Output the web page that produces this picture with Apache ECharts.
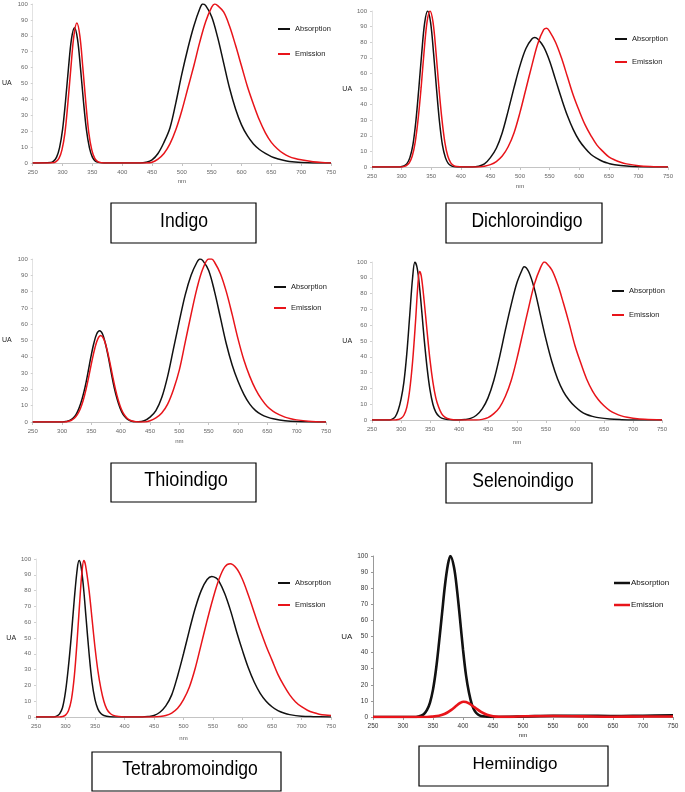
<!DOCTYPE html>
<html>
  <head>
    <meta charset="utf-8" />
    <title>Indigo derivatives - absorption / emission</title>
    <script src="https://cdn.jsdelivr.net/npm/echarts/dist/echarts.min.js"></script>
    <style>body { margin: 0; background: #fff; }</style>
  </head>
  <body>
    <div id="main" style="width: 685px; height: 792px;"></div>
    <script type="text/javascript">
      var myChart = echarts.init(document.getElementById('main'));

      // axis ranges (nm on x, UA on y)
      var nmMin = 250, nmMax = 750, nmStep = 50;
      var uaMin = 0, uaMax = 100, uaStep = 10;
      var seriesNames = ['Absorption', 'Emission'];
      var compounds = ['Indigo', 'Dichloroindigo', 'Thioindigo', 'Selenoindigo', 'Tetrabromoindigo', 'Hemiindigo'];

      // [nm, UA]
      var indigoAbs = [[250,0],[280,0.3],[285,1.2],[290,3.7],[295,9.7],[300,21],[305,39],[310,60],[315,78],[320,85],[325,78],[330,60],[335,39],[340,21],[345,9.7],[350,3.7],[355,1.2],[360,0.4],[370,0],[430,0],[440,0.5],[450,2],[460,6],[470,13],[480,22],[490,38],[500,56],[510,72],[520,86],[530,97],[535,100],[540,99],[550,92],[560,79],[570,63],[580,47],[590,34],[600,24],[610,17],[620,12],[630,8.5],[640,6],[650,4],[660,2.7],[670,1.7],[680,1],[700,0.3],[720,0],[750,0]];
      var indigoEm = [[250,0],[284,0.2],[289,0.9],[294,2.9],[299,8.3],[304,19],[309,38],[314,60],[319,80],[324,88],[329,80],[334,60],[339,38],[344,19],[349,8.3],[354,2.9],[359,0.9],[365,0.2],[375,0],[440,0],[450,0.5],[460,2.5],[470,6],[480,12],[490,21],[500,33],[510,47],[520,61],[530,76],[540,89],[550,98],[555,100],[560,99],[570,95],[580,86],[590,74],[600,61],[610,48],[620,37],[630,27],[640,19],[650,13],[660,9],[670,6],[680,4],[690,2.8],[700,2],[720,0.8],[740,0.2],[750,0]];

      var dichloroAbs = [[250,0],[295,0],[299,0.2],[304,0.7],[309,2.2],[314,6],[319,14],[324,29],[329,50],[334,73],[339,92.5],[344,100],[349,92.5],[354,73],[359,50],[364,29],[369,14],[374,6],[379,2.2],[384,0.7],[389,0.2],[400,0],[420,0],[430,0.5],[440,2],[450,6],[460,12],[470,22],[480,36],[490,51],[500,65],[510,76],[520,82],[525,83],[530,82],[540,77],[550,68],[560,56],[570,44],[580,33],[590,24],[600,17],[610,12],[620,8],[630,5.5],[640,3.5],[650,2.3],[660,1.5],[680,0.6],[700,0.2],[750,0]];
      var dichloroEm = [[250,0],[300,0],[303,0.25],[308,0.9],[313,2.7],[318,7],[323,16],[328,31],[333,51],[338,74],[343,93],[348,100],[353,93],[358,74],[363,51],[368,31],[373,16],[378,7],[383,2.7],[388,0.9],[393,0.25],[405,0],[430,0],[440,0.5],[450,1.5],[460,3.5],[470,7],[480,13],[490,22],[500,35],[510,50],[520,65],[530,79],[540,88],[545,89],[550,87],[560,80],[570,70],[580,58],[590,46],[600,36],[610,27],[620,20],[630,14],[640,10],[650,6.5],[660,4.5],[670,3],[680,2],[700,0.8],[720,0.3],[750,0]];

      var thioAbs = [[250,0],[300,0],[304,0.2],[309,0.5],[314,1.2],[319,2.5],[324,4.7],[329,8.5],[334,14],[339,21],[344,30],[349,39.6],[354,48],[359,54],[364,56],[369,54],[374,48],[379,39.6],[384,30],[389,21],[394,14],[399,8.5],[404,4.7],[409,2.5],[414,1.2],[419,0.5],[424,0.2],[430,0.2],[440,0.8],[450,3],[460,7],[470,15],[480,28],[490,45],[500,62],[510,78],[520,90],[530,98],[535,100],[540,99],[550,93],[560,80],[570,64],[580,48],[590,35],[600,25],[610,17],[620,11],[630,7],[640,4.5],[650,3],[660,2],[680,0.8],[700,0.3],[750,0]];
      var thioEm = [[250,0],[305,0],[311,0.5],[316,1.1],[321,2.3],[326,4.5],[331,8],[336,13.2],[341,20.2],[346,28.6],[351,37.5],[356,45.4],[361,51],[366,53],[371,51],[376,45.4],[381,37.5],[386,28.6],[391,20.2],[396,13.2],[401,8],[406,4.5],[411,2.3],[416,1.1],[421,0.5],[426,0.2],[440,0],[450,0.8],[460,2.5],[470,5.5],[480,11],[490,20],[500,32],[510,49],[520,66],[530,82],[540,94],[550,100],[555,100],[560,98],[570,91],[580,80],[590,66],[600,51],[610,38],[620,28],[630,20],[640,14],[650,9.5],[660,6.5],[670,4.5],[680,3],[690,2],[700,1.3],[720,0.5],[750,0]];

      var selenoAbs = [[250,0],[280,0],[285,0.5],[290,2],[295,6],[300,13],[305,24],[310,42],[315,66],[320,90],[324,100],[328,96],[332,84],[336,68],[340,51],[345,33],[350,19],[355,10],[360,5],[365,2.5],[370,1.2],[380,0.3],[390,0],[400,0],[410,0.3],[420,1],[430,3],[440,7],[450,14],[460,25],[470,40],[480,57],[490,73],[500,87],[510,96],[512,97],[520,94],[530,83],[540,67],[550,51],[560,37],[570,26],[580,18],[590,12.5],[600,8.5],[610,5.5],[620,3.5],[630,2.3],[640,1.5],[660,0.6],[680,0.2],[700,0],[750,0]];
      var selenoEm = [[250,0],[290,0],[295,0.3],[300,1],[305,3],[310,8],[315,19],[320,37],[325,62],[329,85],[332,94],[335,91],[340,75],[345,56],[350,38],[355,24],[360,14],[365,8],[370,4],[375,2],[380,1],[390,0.2],[400,0],[430,0],[440,0.4],[450,1.5],[460,4],[470,8],[480,15],[490,25],[500,39],[510,55],[520,71],[530,86],[540,96],[547,100],[550,99.5],[560,95],[570,86],[580,74],[590,61],[600,47],[610,36],[620,26],[630,18.5],[640,13],[650,9],[660,6],[670,4],[680,2.6],[690,1.7],[700,1.1],[720,0.4],[750,0]];

      var tetraAbs = [[250,0],[280,0],[285,0.5],[290,2],[295,6],[300,16],[305,32],[310,52],[315,75],[320,94],[323,99],[326,96],[330,84],[335,62],[340,40],[345,22],[350,11],[355,5],[360,2.2],[365,1],[375,0.2],[390,0],[430,0],[440,0.3],[450,1],[460,3],[470,7],[480,14],[490,26],[500,40],[510,55],[520,69],[530,80],[540,87],[548,89],[555,88],[560,86],[570,78],[580,67],[590,54],[600,42],[610,31],[620,22],[630,15],[640,10],[650,6.5],[660,4],[670,2.5],[680,1.5],[700,0.5],[720,0.2],[750,0]];
      var tetraEm = [[250,0],[290,0],[295,0.3],[300,1.2],[305,4],[310,11],[315,26],[320,50],[325,78],[328,92],[331,99],[334,96],[340,80],[345,62],[350,44],[355,29],[360,18],[365,10],[370,5],[375,2.5],[380,1.2],[390,0.3],[400,0],[450,0],[460,0.3],[470,1],[480,2.5],[490,5.5],[500,11],[510,19],[520,31],[530,46],[540,61],[550,75],[560,87],[570,95],[579,97],[590,94],[600,87],[610,77],[620,66],[630,55],[640,45],[650,36],[660,27],[670,20],[680,14],[690,9.5],[700,6.5],[710,4.3],[720,2.8],[730,1.8],[740,1.2],[750,0.9]];

      var hemiAbs = [[250,0],[320,0],[325,0.3],[330,0.8],[335,1.9],[340,4.4],[345,9],[350,17],[355,29.5],[360,46],[365,64],[370,82],[375,95],[379,100],[385,93],[390,79],[395,61],[400,42],[405,26],[410,15],[415,7.5],[420,3.5],[425,1.5],[430,0.6],[440,0.2],[450,0],[500,0.3],[550,0.8],[600,0.8],[650,0.6],[700,0.8],[750,1]];
      var hemiEm = [[250,0],[340,0],[350,0.3],[360,0.8],[370,2],[380,4.3],[390,7.3],[395,8.7],[401,9.5],[405,9.3],[410,8.4],[420,5.8],[430,3.2],[440,1.4],[450,0.5],[460,0.2],[480,0.2],[500,0.5],[550,0.6],[600,0.4],[650,0.2],[700,0.3],[750,0.3]];

      var spectra = [
        [indigoAbs, indigoEm], [dichloroAbs, dichloroEm], [thioAbs, thioEm],
        [selenoAbs, selenoEm], [tetraAbs, tetraEm], [hemiAbs, hemiEm]
      ];

      // page layout of each panel (pixels)
      var layout = [
        { grid: [28, 4, 303, 159], nmGap: 15, uaGap: 21, legend: [278, 24, 15], box: [111, 203, 145, 40], label: [184, 222, 19.5, 0.9] },
        { grid: [372, 11, 296, 156], nmGap: 16, uaGap: 19, legend: [615, 34, 13], box: [446, 203, 156, 40], label: [527, 222, 19.5, 0.9] },
        { grid: [31, 259, 295, 163], nmGap: 16, uaGap: 21, legend: [274, 282, 11], box: [111, 463, 145, 39], label: [186, 481, 19.5, 0.93] },
        { grid: [372, 262, 290, 158], nmGap: 19, uaGap: 17, legend: [612, 286, 14], box: [446, 463, 146, 40], label: [523, 482, 19.5, 0.9] },
        { grid: [36, 559, 295, 158], nmGap: 18, uaGap: 19, legend: [278, 578, 12], box: [92, 752, 189, 39], label: [190, 770, 19.5, 0.9] },
        { grid: [373, 556, 300, 161], nmGap: 15, uaGap: 17, legend: [614, 578, 12], box: [419, 746, 189, 40], label: [515, 764, 17, 1] }
      ];

      var font = '"Liberation Sans", Arial, sans-serif';
      var grids = [], xAxes = [], yAxes = [], legends = [], series = [], graphics = [];

      layout.forEach(function (p, i) {
        var heavy = i === 5;
        grids.push({ left: p.grid[0], top: p.grid[1], width: p.grid[2], height: p.grid[3] });
        xAxes.push({
          gridIndex: i, type: 'value', min: nmMin, max: nmMax, interval: nmStep,
          name: 'nm', nameLocation: 'middle', nameGap: p.nmGap,
          nameTextStyle: { fontSize: 6, color: heavy ? '#222' : '#555', fontFamily: font },
          axisLine: { lineStyle: { color: heavy ? '#999' : '#c4c4c4', width: 1 } },
          axisTick: { length: 3, lineStyle: { color: heavy ? '#999' : '#c4c4c4' } },
          axisLabel: { fontSize: heavy ? 6.5 : 6, color: heavy ? '#333' : '#666', margin: 6, fontFamily: font },
          splitLine: { show: false }
        });
        yAxes.push({
          gridIndex: i, type: 'value', min: uaMin, max: uaMax, interval: uaStep,
          name: 'UA', nameLocation: 'middle', nameRotate: 0, nameGap: p.uaGap,
          nameTextStyle: { fontSize: heavy ? 8 : 7, color: '#222', fontFamily: font },
          axisLine: { show: true, lineStyle: { color: heavy ? '#999' : '#e2e2e2', width: 1 } },
          axisTick: { show: true, length: 2, lineStyle: { color: heavy ? '#999' : '#d0d0d0' } },
          axisLabel: { fontSize: heavy ? 6.5 : 6, color: heavy ? '#333' : '#666', margin: 5, fontFamily: font },
          splitLine: { show: false }
        });
        legends.push({
          left: p.legend[0], top: p.legend[1], orient: 'vertical', itemGap: p.legend[2],
          itemWidth: heavy ? 16 : 12, itemHeight: heavy ? 2.5 : 2, icon: 'rect', padding: 0,
          selectedMode: false, data: seriesNames,
          textStyle: { fontSize: heavy ? 8 : 7.5, color: heavy ? '#111' : '#222', lineHeight: 10, fontFamily: font, padding: [0, 0, 0, heavy ? -4 : 0] }
        });
        spectra[i].forEach(function (d, k) {
          var color = k === 0 ? '#111111' : '#e8141a';
          series.push({
            type: 'line', name: seriesNames[k], xAxisIndex: i, yAxisIndex: i,
            data: d, smooth: 0.35, showSymbol: false, symbol: 'none',
            lineStyle: { color: color, width: heavy ? 2.6 : 1.5 },
            itemStyle: { color: color }
          });
        });
        graphics.push({
          type: 'rect', shape: { x: p.box[0], y: p.box[1], width: p.box[2], height: p.box[3] },
          style: { fill: '#fff', stroke: '#000', lineWidth: 1.2 }
        });
        graphics.push({
          type: 'text', x: p.label[0], y: p.label[1], scaleX: p.label[3],
          style: {
            text: compounds[i], fill: '#000', font: p.label[2] + 'px ' + font,
            align: 'center', verticalAlign: 'middle', textAlign: 'center', textVerticalAlign: 'middle'
          }
        });
      });

      var option = {
        animation: false,
        backgroundColor: '#fff',
        textStyle: { fontFamily: font },
        grid: grids,
        xAxis: xAxes,
        yAxis: yAxes,
        legend: legends,
        series: series,
        graphic: graphics
      };

      myChart.setOption(option);
    </script>
  </body>
</html>
